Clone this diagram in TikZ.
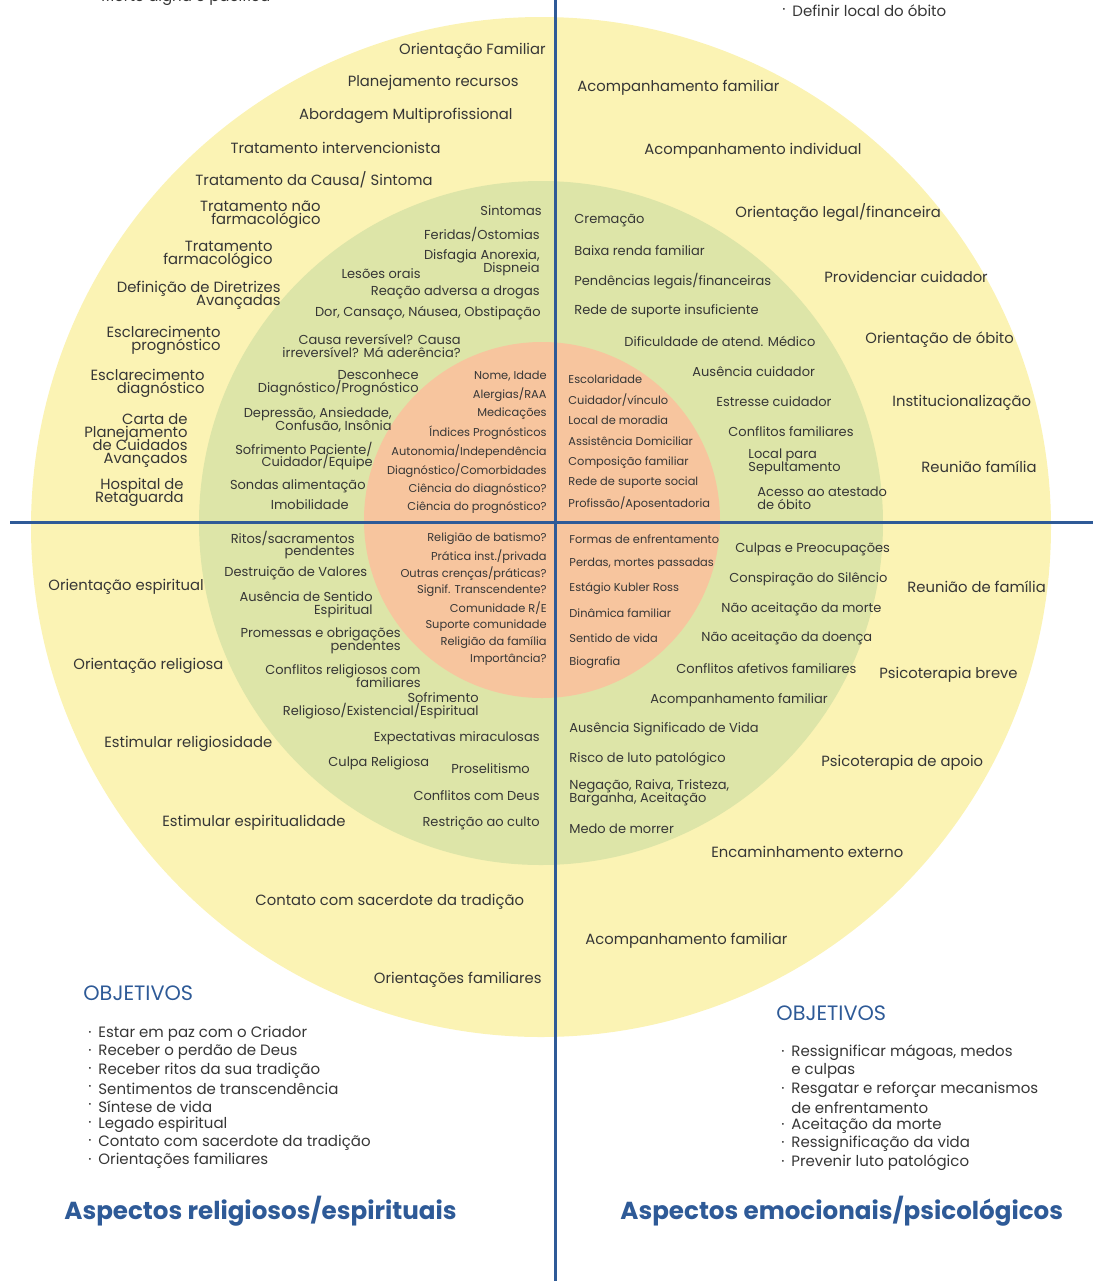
\documentclass[tikz,border=0pt]{standalone}
\usepackage{fontspec}
\setmainfont{Poppins}
\usepackage{tikz}
\usetikzlibrary{positioning}
\definecolor{ringyellow}{HTML}{FBF3B4}
\definecolor{ringgreen}{HTML}{DDE5A8}
\definecolor{ringorange}{HTML}{F7C59E}
\definecolor{axisblue}{HTML}{2E5A97}
\definecolor{txtgray}{HTML}{363636}
\newcommand{\tightlead}{\lineskiplimit=-20pt\relax}

\begin{document}
\begin{tikzpicture}[
        x=0.5pt, y=-0.5pt,
        every node/.style={inner sep=0pt, text=txtgray},
        outerL/.style={anchor=east, align=right, font=\fontsize{7.4}{6.5}\selectfont\tightlead},
        outerR/.style={anchor=west, align=left, font=\fontsize{7.4}{6.5}\selectfont\tightlead},
        midL/.style={anchor=east, align=right, font=\fontsize{6.5}{6.3}\selectfont\tightlead},
        midR/.style={anchor=west, align=left, font=\fontsize{6.5}{6.3}\selectfont\tightlead},
        innL/.style={anchor=east, font=\fontsize{5.7}{6}\selectfont},
        innR/.style={anchor=west, font=\fontsize{5.7}{6}\selectfont},
        objitem/.style={anchor=west, font=\fontsize{7.5}{8}\selectfont},
        objdot/.style={anchor=east, font=\fontsize{7.5}{8}\selectfont},
        objtitle/.style={anchor=west, text=axisblue, font=\fontsize{10.4}{11}\selectfont},
        aspect/.style={anchor=west, text=axisblue, font=\fontsize{12.3}{14}\selectfont\bfseries},
        axis/.style={draw=axisblue, line width=1.5pt}
    ]
        \useasboundingbox (0,0) rectangle (1093,1281);

        % Rings
        \fill[ringyellow] (541,527) circle [radius=510];
        \fill[ringgreen] (541,523) circle [radius=342];
        \fill[ringorange] (542,520) circle [radius=178];

        % Axes
        \coordinate (axtop) at (555,0);
        \coordinate (axbot) at (555,1281);
        \coordinate (axlft) at (10,522);
        \coordinate (axrgt) at (1093,522);
        \draw[axis] (axtop) -- (axbot);
        \draw[axis] (axlft) -- (axrgt);

        % Top cut-off objectives
        \node[objitem] (topL) at (101,-2) {Morte digna e pacífica};
        \node[objdot, left=3pt of topL] (topLdot) {·};
        \node[objitem] (topR) at (792,11) {Definir local do óbito};
        \node[objdot, left=3pt of topR] (topRdot) {·};

        % Top left: clinical, outer ring
        \node[outerL] (clinO1) at (546,51) {Orientação Familiar};
        \node[outerL] (clinO2) at (519,83) {Planejamento recursos};
        \node[outerL] (clinO3) at (513,116) {Abordagem Multiprofissional};
        \node[outerL] (clinO4) at (441,148) {Tratamento intervencionista};
        \node[outerL] (clinO5) at (433,180) {Tratamento da Causa/ Sintoma};
        \node[outerL] (clinO6) at (321,215) {Tratamento não\\farmacológico};
        \node[outerL] (clinO7) at (273,255) {Tratamento\\farmacológico};
        \node[outerL] (clinO8) at (281,295) {Definição de Diretrizes\\Avançadas};
        \node[outerL] (clinO9) at (221,340) {Esclarecimento\\prognóstico};
        \node[outerL] (clinO10) at (205,383) {Esclarecimento\\diagnóstico};
        \node[outerL] (clinO11) at (188,440) {Carta de\\Planejamento\\de Cuidados\\Avançados};
        \node[outerL] (clinO12) at (184,492) {Hospital de\\Retaguarda};

        % Top left: clinical, middle ring
        \node[midL] (clinM1) at (542,211) {Sintomas};
        \node[midL] (clinM2) at (540,234) {Feridas/Ostomias};
        \node[midL] (clinM3) at (540,263) {Disfagia Anorexia,\\Dispneia};
        \node[midL] (clinM4) at (421,274) {Lesões orais};
        \node[midL] (clinM5) at (540,292) {Reação adversa a drogas};
        \node[midL] (clinM6) at (541,313) {Dor, Cansaço, Náusea, Obstipação};
        \node[midL] (clinM7) at (461,346) {Causa reversível? Causa\\irreversível? Má aderência?};
        \node[midL] (clinM8) at (419,383) {Desconhece\\Diagnóstico/Prognóstico};
        \node[midL] (clinM9) at (392,420) {Depressão, Ansiedade,\\Confusão, Insônia};
        \node[midL] (clinM10) at (373,456) {Sofrimento Paciente/\\Cuidador/Equipe};
        \node[midL] (clinM11) at (366,486) {Sondas alimentação};
        \node[midL] (clinM12) at (349,505) {Imobilidade};

        % Top left: clinical, inner ring
        \foreach \txt [count=\i] in {{Nome, Idade}, Alergias/RAA, Medicações, Índices Prognósticos,
                Autonomia/Independência, Diagnóstico/Comorbidades, Ciência do diagnóstico?, Ciência do prognóstico?}
            \node[innL] (clinI\i) at (547,{376+18.86*(\i-1)}) {\txt};

        % Top right: social, outer ring
        \node[outerR] (socO1) at (577,88) {Acompanhamento familiar};
        \node[outerR] (socO2) at (644,151) {Acompanhamento individual};
        \node[outerR] (socO3) at (735,213) {Orientação legal/financeira};
        \node[outerR] (socO4) at (824,277) {Providenciar cuidador};
        \node[outerR] (socO5) at (865,340) {Orientação de óbito};
        \node[outerR] (socO6) at (892,403) {Institucionalização};
        \node[outerR] (socO7) at (921,467) {Reunião família};

        % Top right: social, middle ring
        \node[midR] (socM1) at (574,221) {Cremação};
        \node[midR] (socM2) at (574,251) {Baixa renda familiar};
        \node[midR] (socM3) at (574,281) {Pendências legais/financeiras};
        \node[midR] (socM4) at (574,311) {Rede de suporte insuficiente};
        \node[midR] (socM5) at (624,341) {Dificuldade de atend. Médico};
        \node[midR] (socM6) at (692,372) {Ausência cuidador};
        \node[midR] (socM7) at (716,402) {Estresse cuidador};
        \node[midR] (socM8) at (728,432) {Conflitos familiares};
        \node[midR] (socM9) at (748,462) {Local para\\Sepultamento};
        \node[midR] (socM10) at (757,498) {Acesso ao atestado\\de óbito};

        % Top right: social, inner ring
        \foreach \txt [count=\i] in {Escolaridade, Cuidador/vínculo, Local de moradia, Assistência Domiciliar,
                Composição familiar, Rede de suporte social, Profissão/Aposentadoria}
            \node[innR] (socI\i) at (568,{379+20.8*(\i-1)}) {\txt};

        % Bottom left: spiritual, outer ring
        \node[outerR] (spirO1) at (48,587) {Orientação espiritual};
        \node[outerR] (spirO2) at (73,666) {Orientação religiosa};
        \node[outerR] (spirO3) at (104,744) {Estimular religiosidade};
        \node[outerR] (spirO4) at (162,823) {Estimular espiritualidade};
        \node[outerR] (spirO5) at (255,902) {Contato com sacerdote da tradição};
        \node[outerL] (spirO6) at (542,980) {Orientações familiares};

        % Bottom left: spiritual, middle ring
        \node[midL] (spirM1) at (355,545) {Ritos/sacramentos\\pendentes};
        \node[midR] (spirM2) at (224,573) {Destruição de Valores};
        \node[midL] (spirM3) at (373,605) {Ausência de Sentido\\Espiritual};
        \node[midL] (spirM4) at (401,641) {Promessas e obrigações\\pendentes};
        \node[midL] (spirM5) at (421,676) {Conflitos religiosos com\\familiares};
        \node[midL] (spirM6) at (479,706) {Sofrimento\\Religioso/Existencial/Espiritual};
        \node[midL] (spirM7) at (540,738) {Expectativas miraculosas};
        \node[midR] (spirM8) at (328,763) {Culpa Religiosa};
        \node[midR] (spirM9) at (451,769) {Proselitismo};
        \node[midL] (spirM10) at (540,796) {Conflitos com Deus};
        \node[midL] (spirM11) at (540,823) {Restrição ao culto};

        % Bottom left: spiritual, inner ring
        \foreach \txt [count=\i] in {Religião de batismo?, Prática inst./privada, Outras crenças/práticas?,
                Signif. Transcendente?, Comunidade R/E, Suporte comunidade, Religião da família, Importância?}
            \node[innL] (spirI\i) at (547,{539+17.3*(\i-1)}) {\txt};

        % Bottom right: emotional, outer ring
        \node[outerR] (emoO1) at (907,587) {Reunião de família};
        \node[outerR] (emoO2) at (879,675) {Psicoterapia breve};
        \node[outerR] (emoO3) at (821,763) {Psicoterapia de apoio};
        \node[outerR] (emoO4) at (711,852) {Encaminhamento externo};
        \node[outerR] (emoO5) at (585,941) {Acompanhamento familiar};

        % Bottom right: emotional, middle ring
        \node[midR] (emoM1) at (735,549) {Culpas e Preocupações};
        \node[midR] (emoM2) at (729,579) {Conspiração do Silêncio};
        \node[midR] (emoM3) at (721,609) {Não aceitação da morte};
        \node[midR] (emoM4) at (701,638) {Não aceitação da doença};
        \node[midR] (emoM5) at (676,669) {Conflitos afetivos familiares};
        \node[midR] (emoM6) at (650,700) {Acompanhamento familiar};
        \node[midR] (emoM7) at (569,729) {Ausência Significado de Vida};
        \node[midR] (emoM8) at (569,759) {Risco de luto patológico};
        \node[midR] (emoM9) at (569,793) {Negação, Raiva, Tristeza,\\Barganha, Aceitação};
        \node[midR] (emoM10) at (569,829) {Medo de morrer};

        % Bottom right: emotional, inner ring
        \foreach \txt [count=\i] in {Formas de enfrentamento, {Perdas, mortes passadas}, Estágio Kubler Ross,
                Dinâmica familiar, Sentido de vida, Biografia}
            \node[innR] (emoI\i) at (569,{539+24.8*(\i-1)}) {\txt};

        % Objectives, left
        \node[objtitle] (objL) at (83,993) {OBJETIVOS};
        \foreach \txt [count=\i] in {Estar em paz com o Criador, Receber o perdão de Deus, Receber ritos da sua tradição,
                Sentimentos de transcendência, Síntese de vida, Legado espiritual,
                Contato com sacerdote da tradição, Orientações familiares}
        {
            \node[objitem] (objL\i) at (98,{1034+18.14*(\i-1)}) {\txt};
            \node[objdot, left=3pt of objL\i] (objLdot\i) {·};
        }

        % Objectives, right
        \node[objtitle] (objR) at (776,1013) {OBJETIVOS};
        \node[objitem] (objR1) at (791,1053) {Ressignificar mágoas, medos};
        \node[objitem] (objR1b) at (791,1071) {e culpas};
        \node[objitem] (objR2) at (791,1090) {Resgatar e reforçar mecanismos};
        \node[objitem] (objR2b) at (791,1108) {de enfrentamento};
        \node[objitem] (objR3) at (791,1126) {Aceitação da morte};
        \node[objitem] (objR4) at (791,1144) {Ressignificação da vida};
        \node[objitem] (objR5) at (791,1163) {Prevenir luto patológico};
        \foreach \i in {1,...,5}
            \node[objdot, left=3pt of objR\i] (objRdot\i) {·};

        % Quadrant titles
        \node[aspect] (spirTitle) at (64,1211) {Aspectos religiosos/espirituais};
        \node[aspect] (emoTitle) at (620,1211) {Aspectos emocionais/psicológicos};
    \end{tikzpicture}
\end{document}
